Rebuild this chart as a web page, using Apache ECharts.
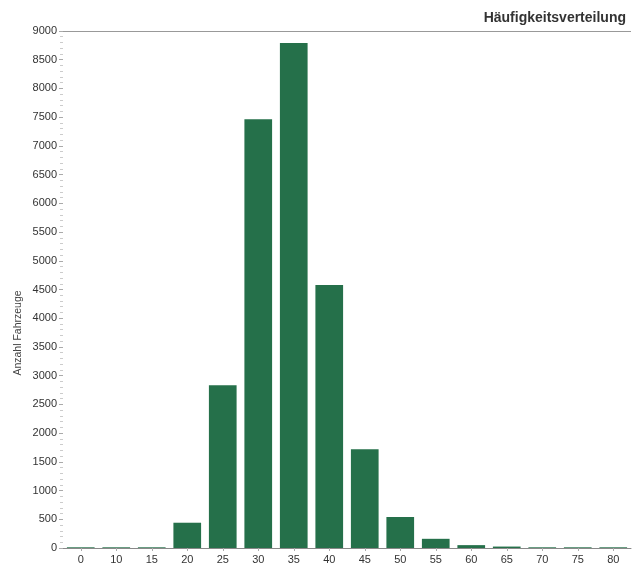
<!DOCTYPE html>
<html>
<head>
<meta charset="utf-8">
<script src="https://cdn.jsdelivr.net/npm/echarts@6/dist/echarts.min.js"></script>
<style>html,body{margin:0;padding:0;background:#fff}#c{width:634px;height:568px}</style>
</head>
<body>
<div id="c"></div>
<script>
const categories = ['0','10','15','20','25','30','35','40','45','50','55','60','65','70','75','80'];
const counts = [12, 12, 12, 440, 2835, 7465, 8790, 4580, 1720, 540, 160, 50, 25, 12, 12, 12];
const titleText = 'Häufigkeitsverteilung';
const yAxisTitle = 'Anzahl Fahrzeuge';

const chart = echarts.init(document.getElementById('c'));
chart.setOption({
  animation: false,
  backgroundColor: '#fff',
  textStyle: { fontFamily: 'Liberation Sans, Arial, sans-serif' },
  title: {
    text: titleText, right: 3, top: 6,
    textStyle: { fontSize: 14, fontWeight: 'bold', color: '#333' }
  },
  graphic: [{
    type: 'text', x: 18, y: 333, rotation: Math.PI / 2,
    style: { text: yAxisTitle, fontSize: 10.5, fill: '#444', align: 'center', verticalAlign: 'middle',
      fontFamily: 'Liberation Sans, Arial, sans-serif' }
  }],
  grid: { left: 63, right: 3, top: 31, bottom: 20, containLabel: false },
  xAxis: {
    type: 'category', data: categories,
    axisLine: { lineStyle: { color: '#888', width: 1 } },
    axisTick: { show: true, alignWithLabel: true, length: 3, lineStyle: { color: '#aaa' } },
    axisLabel: { fontSize: 11, color: '#333', margin: 6 }
  },
  yAxis: {
    type: 'value', min: 0, max: 9000, interval: 500,
    axisLine: { show: false },
    axisTick: { show: true, length: 4, lineStyle: { color: '#aaa' } },
    minorTick: { show: true, splitNumber: 5, length: 3, lineStyle: { color: '#ccc' } },
    splitLine: { show: false },
    axisLabel: { fontSize: 11, color: '#333', margin: 6, formatter: v => String(v) }
  },
  series: [{
    type: 'bar', data: counts, barCategoryGap: '22%',
    itemStyle: { color: '#25704a' },
    markLine: {
      silent: true, symbol: 'none', label: { show: false },
      lineStyle: { color: '#999', type: 'solid', width: 1 },
      data: [{ yAxis: 9000 }]
    }
  }]
});
</script>
</body>
</html>
